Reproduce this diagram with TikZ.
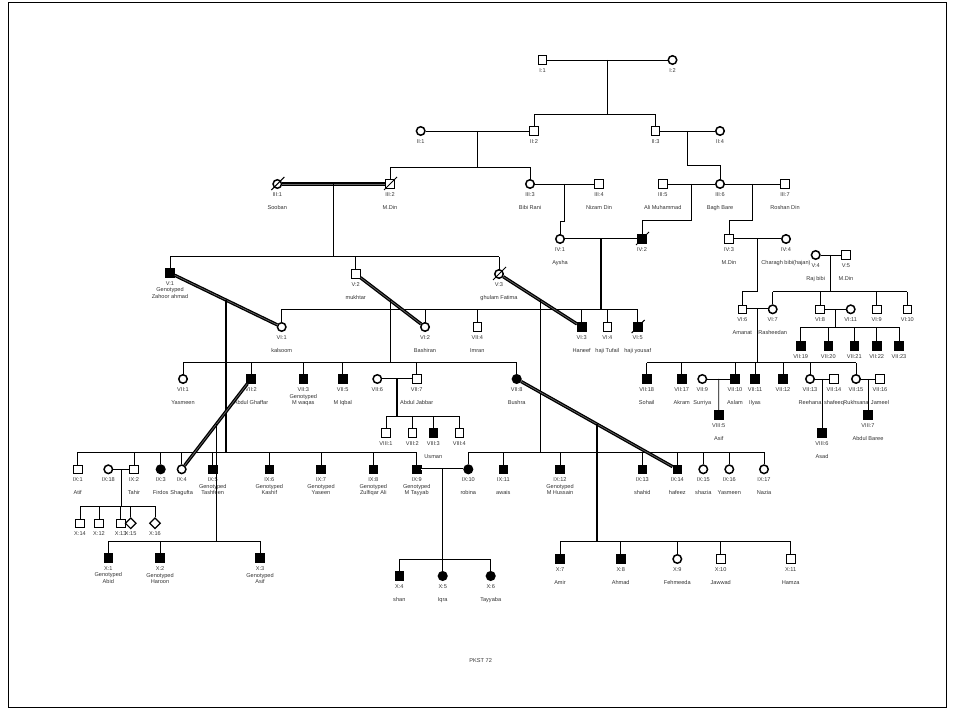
\documentclass[tikz,border=0pt]{standalone}
\usepackage{fontspec}
\setmainfont{Liberation Sans}
\usepackage{tikz}
\usetikzlibrary{calc, shapes.geometric}
\tikzstyle{male}    = [rectangle, draw=black, line width=0.9pt, fill=white, minimum size=8.5pt, inner sep=0pt]
\tikzstyle{female}  = [circle, draw=black, line width=1.5pt, fill=white, minimum size=8.5pt, inner sep=0pt]
\tikzstyle{unknown} = [diamond, draw=black, line width=1.2pt, fill=white, minimum size=11pt, inner sep=0pt]
\tikzstyle{aff}     = [fill=black]
\tikzstyle{lbl}     = [anchor=north, align=center, inner sep=0pt, text=black!80,
    font=\fontsize{5.6}{6.4}\selectfont]
\tikzstyle{mate}    = [line width=0.9pt]
\tikzstyle{consang} = [double, double distance=0.8pt, line width=0.8pt]
\tikzstyle{heavy}   = [double=black!60, double distance=0.7pt, line width=1.3pt]
\tikzstyle{desc}    = [line width=1.3pt]
\tikzstyle{sib}     = [line width=0.8pt]
\tikzstyle{dead}    = [line width=1pt]
\newcommand{\member}[6]{\node[#2] (#1) at (#3,#4) {};
    \node[lbl] (#1t) at (#3,#4+8.5) {#5\\#6};}
\newcommand{\deceased}[1]{\draw[dead] ([shift={(-6,6)}]#1.center) -- ([shift={(7,-7)}]#1.center);}

\begin{document}
\begin{tikzpicture}[x=1pt,y=-1pt]
    \useasboundingbox (0,0) rectangle (954,719);
    \draw[line width=0.8pt] (8,2) rectangle (946,707);

    \member{I1}{male}{542.5}{60}{I:1}{\mbox{}}
    \member{I2}{female}{672.5}{60}{I:2}{\mbox{}}
    \member{II1}{female}{420.7}{131}{II:1}{\mbox{}}
    \member{II2}{male}{534}{131}{II:2}{\mbox{}}
    \member{II3}{male}{655.5}{131}{II:3}{\mbox{}}
    \member{II4}{female}{720}{131}{II:4}{\mbox{}}
    \member{III1}{female}{277.3}{184}{III:1}{\mbox{}\\Sooban}
    \member{III2}{male}{390}{184}{III:2}{\mbox{}\\M.Din}
    \member{III3}{female}{530}{184}{III:3}{\mbox{}\\Bibi Rani}
    \member{III4}{male}{599}{184}{III:4}{\mbox{}\\Nizam Din}
    \member{III5}{male}{662.7}{184}{III:5}{\mbox{}\\Ali Muhammad}
    \member{III6}{female}{720}{184}{III:6}{\mbox{}\\Bagh Bare}
    \member{III7}{male}{785}{184}{III:7}{\mbox{}\\Roshan Din}
    \member{IV1}{female}{560}{239}{IV:1}{\mbox{}\\Aysha}
    \member{IV2}{male,aff}{642}{239}{IV:2}{\mbox{}}
    \member{IV3}{male}{729}{239}{IV:3}{\mbox{}\\M.Din}
    \member{IV4}{female}{786}{239}{IV:4}{\mbox{}\\Charagh bibi(hajan)}
    \member{V1}{male,aff}{170}{273}{V:1}{Genotyped\\Zahoor ahmad}
    \member{V2}{male}{355.7}{274}{V:2}{\mbox{}\\mukhtar}
    \member{V3}{female}{499}{274}{V:3}{\mbox{}\\ghulam Fatima}
    \member{V4}{female}{815.7}{255}{V:4}{\mbox{}\\Raj bibi}
    \member{V5}{male}{846}{255}{V:5}{\mbox{}\\M.Din}
    \member{VI1}{female}{281.7}{327}{VI:1}{\mbox{}\\kalsoom}
    \member{VI2}{female}{425}{327}{VI:2}{\mbox{}\\Bashiran}
    \member{VII4}{male}{477.3}{327}{VII:4}{\mbox{}\\Imran}
    \member{VI3}{male,aff}{581.7}{327}{VI:3}{\mbox{}\\Haneef}
    \member{VI4}{male}{607.3}{327}{VI:4}{\mbox{}\\haji Tufail}
    \member{VI5}{male,aff}{637.7}{327}{VI:5}{\mbox{}\\haji yousaf}
    \member{VI6}{male}{742.3}{309.3}{VI:6}{\mbox{}\\Amanat}
    \member{VI7}{female}{772.7}{309.3}{VI:7}{\mbox{}\\Rasheedan}
    \member{VI8}{male}{820}{309.3}{VI:8}{\mbox{}}
    \member{VI11}{female}{850.7}{309.3}{VI:11}{\mbox{}}
    \member{VI9}{male}{876.7}{309.3}{VI:9}{\mbox{}}
    \member{VI10}{male}{907.3}{309.3}{VI:10}{\mbox{}}
    \member{VII19}{male,aff}{800.7}{346}{VII:19}{\mbox{}}
    \member{VII20}{male,aff}{828.3}{346}{VII:20}{\mbox{}}
    \member{VII21}{male,aff}{854.3}{346}{VII:21}{\mbox{}}
    \member{VII22}{male,aff}{876.7}{346}{VII:22}{\mbox{}}
    \member{VII23}{male,aff}{899}{346}{VII:23}{\mbox{}}
    \member{VII1}{female}{183}{379}{VII:1}{\mbox{}\\Yasmeen}
    \member{VII2}{male,aff}{251}{379}{VII:2}{\mbox{}\\Abdul Ghaffar}
    \member{VII3}{male,aff}{303.3}{379}{VII:3}{Genotyped\\M waqas}
    \member{VII5}{male,aff}{342.7}{379}{VII:5}{\mbox{}\\M Iqbal}
    \member{VII6}{female}{377.3}{379}{VII:6}{\mbox{}}
    \member{VII7}{male}{416.7}{379}{VII:7}{\mbox{}\\Abdul Jabbar}
    \member{VII8}{female,aff}{516.7}{379}{VII:8}{\mbox{}\\Bushra}
    \member{VII18}{male,aff}{646.7}{379}{VII:18}{\mbox{}\\Sohail}
    \member{VII17}{male,aff}{681.7}{379}{VII:17}{\mbox{}\\Akram}
    \member{VII9}{female}{702.3}{379}{VII:9}{\mbox{}\\Surriya}
    \member{VII10}{male,aff}{735}{379}{VII:10}{\mbox{}\\Aslam}
    \member{VII11}{male,aff}{755}{379}{VII:11}{\mbox{}\\Ilyas}
    \member{VII12}{male,aff}{783}{379}{VII:12}{\mbox{}}
    \member{VII13}{female}{810}{379}{VII:13}{\mbox{}\\Reehana}
    \member{VII14}{male}{834}{379}{VII:14}{\mbox{}\\shafeeq}
    \member{VII15}{female}{856}{379}{VII:15}{\mbox{}\\Rukhsana}
    \member{VII16}{male}{880}{379}{VII:16}{\mbox{}\\Jameel}
    \member{VIII1}{male}{386}{433}{VIII:1}{\mbox{}}
    \member{VIII2}{male}{412.3}{433}{VIII:2}{\mbox{}}
    \member{VIII3}{male,aff}{433.3}{433}{VIII:3}{\mbox{}\\Usman}
    \member{VIII4}{male}{459.3}{433}{VIII:4}{\mbox{}}
    \member{VIII5}{male,aff}{718.7}{415}{VIII:5}{\mbox{}\\Asif}
    \member{VIII6}{male,aff}{822}{433}{VIII:6}{\mbox{}\\Asad}
    \member{VIII7}{male,aff}{868}{415}{VIII:7}{\mbox{}\\Abdul Baree}
    \member{IX1}{male}{77.7}{469.3}{IX:1}{\mbox{}\\Atif}
    \member{IX18}{female}{108.3}{469.3}{IX:18}{\mbox{}}
    \member{IX2}{male}{134}{469.3}{IX:2}{\mbox{}\\Tahir}
    \member{IX3}{female,aff}{160.7}{469.3}{IX:3}{\mbox{}\\Firdos}
    \member{IX4}{female}{181.7}{469.3}{IX:4}{\mbox{}\\Shagufta}
    \member{IX5}{male,aff}{212.7}{469.3}{IX:5}{Genotyped\\Tashfeen}
    \member{IX6}{male,aff}{269.3}{469.3}{IX:6}{Genotyped\\Kashif}
    \member{IX7}{male,aff}{321}{469.3}{IX:7}{Genotyped\\Yaseen}
    \member{IX8}{male,aff}{373.3}{469.3}{IX:8}{Genotyped\\Zulfiqar Ali}
    \member{IX9}{male,aff}{416.7}{469.3}{IX:9}{Genotyped\\M Tayyab}
    \member{IX10}{female,aff}{468.3}{469.3}{IX:10}{\mbox{}\\robina}
    \member{IX11}{male,aff}{503.3}{469.3}{IX:11}{\mbox{}\\awais}
    \member{IX12}{male,aff}{560}{469.3}{IX:12}{Genotyped\\M Hussain}
    \member{IX13}{male,aff}{642.3}{469.3}{IX:13}{\mbox{}\\shahid}
    \member{IX14}{male,aff}{677.3}{469.3}{IX:14}{\mbox{}\\hafeez}
    \member{IX15}{female}{703.3}{469.3}{IX:15}{\mbox{}\\shazia}
    \member{IX16}{female}{729.3}{469.3}{IX:16}{\mbox{}\\Yasmeen}
    \member{IX17}{female}{764}{469.3}{IX:17}{\mbox{}\\Nazia}
    \member{X14}{male}{80}{523.3}{X:14}{\mbox{}}
    \member{X12}{male}{99}{523.3}{X:12}{\mbox{}}
    \member{X13}{male}{120.7}{523.3}{X:13}{\mbox{}}
    \member{X15}{unknown}{130.7}{523.3}{X:15}{\mbox{}}
    \member{X16}{unknown}{155}{523.3}{X:16}{\mbox{}}
    \member{X1}{male,aff}{108.3}{558}{X:1}{Genotyped\\Abid}
    \member{X2}{male,aff}{160}{558}{X:2}{Genotyped\\Haroon}
    \member{X3}{male,aff}{260}{558}{X:3}{Genotyped\\Asif}
    \member{X4}{male,aff}{399.3}{576}{X:4}{\mbox{}\\shan}
    \member{X5}{female,aff}{442.7}{576}{X:5}{\mbox{}\\Iqra}
    \member{X6}{female,aff}{490.7}{576}{X:6}{\mbox{}\\Tayyaba}
    \member{X7}{male,aff}{560}{559}{X:7}{\mbox{}\\Amir}
    \member{X8}{male,aff}{620.7}{559}{X:8}{\mbox{}\\Ahmad}
    \member{X9}{female}{677.3}{559}{X:9}{\mbox{}\\Fehmeeda}
    \member{X10}{male}{720.7}{559}{X:10}{\mbox{}\\Jawwad}
    \member{X11}{male}{790.7}{559}{X:11}{\mbox{}\\Hamza}
    \node[lbl] (title) at (480.7,658) {PKST 72};

    \deceased{III1}
    \deceased{III2}
    \deceased{IV2}
    \deceased{V3}
    \deceased{VI5}

    \draw[mate] (I1) -- (I2);
    \coordinate (c1) at ($(I1)!.5!(I2)$);
    \coordinate (s1) at (0,114);
    \draw[sib] (c1) -- (c1 |- s1);
    \draw[sib] (II2 |- s1) -- (II3 |- s1);
    \foreach \k in {II2,II3} \draw[sib] (\k) -- (\k |- s1);

    \draw[mate] (II1) -- (II2);
    \coordinate (c2) at ($(II1)!.5!(II2)$);
    \coordinate (s2) at (0,167);
    \draw[sib] (c2) -- (c2 |- s2);
    \draw[sib] (III2 |- s2) -- (III3 |- s2);
    \foreach \k in {III2,III3} \draw[sib] (\k) -- (\k |- s2);

    \draw[mate] (II3) -- (II4);
    \coordinate (c3) at ($(II3)!.5!(II4)$);
    \coordinate (s3) at (0,165);
    \draw[sib] (c3) -- (c3 |- s3) -| (III6);

    \draw[heavy] (III1) -- (III2);
    \coordinate (c4) at ($(III1)!.5!(III2)$);
    \coordinate (s4) at (0,256.7);
    \draw[desc] (c4) -- (c4 |- s4);
    \draw[sib] (V1 |- s4) -- (V3 |- s4);
    \foreach \k in {V1,V2,V3} \draw[sib] (\k) -- (\k |- s4);

    \draw[mate] (III3) -- (III4);
    \coordinate (c5) at ($(III3)!.5!(III4)$);
    \coordinate (s5) at (0,221);
    \draw[sib] (c5) -- (c5 |- s5) -| (IV1);

    \draw[mate] (III5) -- (III6);
    \coordinate (c6) at ($(III5)!.5!(III6)$);
    \coordinate (s6) at (0,220.3);
    \draw[sib] (c6) -- (c6 |- s6) -| (IV2);

    \draw[mate] (III6) -- (III7);
    \coordinate (c7) at ($(III6)!.5!(III7)$);
    \draw[sib] (c7) -- (c7 |- s6) -| (IV3);

    \draw[consang] (IV1) -- (IV2);
    \coordinate (c8) at ($(IV1)!.5!(IV2)$);
    \coordinate (s8) at (0,309.3);
    \draw[desc] (c8) -- (c8 |- s8);
    \draw[sib] (VI1 |- s8) -- (VI5 |- s8);
    \foreach \k in {VI1,VI2,VII4,VI3,VI4,VI5} \draw[sib] (\k) -- (\k |- s8);

    \draw[consang] (IV3) -- (IV4);
    \coordinate (c9) at ($(IV3)!.5!(IV4)$);
    \coordinate (s9) at (0,291.7);
    \draw[desc] (c9) -- (c9 |- s9) -| (VI6);

    \draw[mate] (V4) -- (V5);
    \coordinate (c10) at ($(V4)!.5!(V5)$);
    \draw[sib] (c10) -- (c10 |- s9);
    \draw[sib] (VI7 |- s9) -- (VI10 |- s9);
    \foreach \k in {VI7,VI8,VI9,VI10} \draw[sib] (\k) -- (\k |- s9);

    \draw[heavy] (V1) -- (VI1);
    \coordinate (c11) at ($(V1)!.5!(VI1)$);
    \coordinate (s11) at (0,452);
    \draw[desc] (c11) -- (c11 |- s11);
    \draw[sib] (IX1 |- s11) -- (IX9 |- s11);
    \foreach \k in {IX1,IX2,IX3,IX4,IX5,IX6,IX7,IX8,IX9} \draw[sib] (\k) -- (\k |- s11);

    \draw[heavy] (V2) -- (VI2);
    \coordinate (c12) at ($(V2)!.5!(VI2)$);
    \coordinate (s12) at (0,362.7);
    \draw[desc] (c12) -- (c12 |- s12);
    \draw[sib] (VII1 |- s12) -- (VII8 |- s12);
    \foreach \k in {VII1,VII2,VII3,VII5,VII7,VII8} \draw[sib] (\k) -- (\k |- s12);

    \draw[heavy] (V3) -- (VI3);
    \coordinate (c13) at ($(V3)!.5!(VI3)$);
    \draw[desc] (c13) -- (c13 |- s11);
    \draw[sib] (IX10 |- s11) -- (IX17 |- s11);
    \foreach \k in {IX10,IX11,IX12,IX13,IX14,IX15,IX16,IX17} \draw[sib] (\k) -- (\k |- s11);

    \draw[consang] (VI6) -- (VI7);
    \coordinate (c14) at ($(VI6)!.5!(VI7)$);
    \draw[desc] (c14) -- (c14 |- s12);
    \draw[sib] (VII18 |- s12) -- (VII15 |- s12);
    \foreach \k in {VII18,VII17,VII10,VII11,VII12,VII13,VII15} \draw[sib] (\k) -- (\k |- s12);

    \draw[mate] (VI8) -- (VI11);
    \coordinate (c15) at ($(VI8)!.5!(VI11)$);
    \coordinate (s15) at (0,327.3);
    \draw[sib] (c15) -- (c15 |- s15);
    \draw[sib] (VII19 |- s15) -- (VII23 |- s15);
    \foreach \k in {VII19,VII20,VII21,VII22,VII23} \draw[sib] (\k) -- (\k |- s15);

    \draw[consang] (VII6) -- (VII7);
    \coordinate (c16) at ($(VII6)!.5!(VII7)$);
    \coordinate (s16) at (0,416);
    \draw[desc] (c16) -- (c16 |- s16);
    \draw[sib] (VIII1 |- s16) -- (VIII4 |- s16);
    \foreach \k in {VIII1,VIII2,VIII3,VIII4} \draw[sib] (\k) -- (\k |- s16);

    \draw[mate] (VII9) -- (VII10);
    \coordinate (c17) at ($(VII9)!.5!(VII10)$);
    \draw[sib] (c17) -- (VIII5);

    \draw[mate] (VII13) -- (VII14);
    \coordinate (c18) at ($(VII13)!.5!(VII14)$);
    \draw[sib] (c18) -- (VIII6);

    \draw[mate] (VII15) -- (VII16);
    \coordinate (c19) at ($(VII15)!.5!(VII16)$);
    \draw[sib] (c19) -- (VIII7);

    \draw[heavy] (VII2) -- (IX4);
    \coordinate (c20) at ($(VII2)!.5!(IX4)$);
    \coordinate (s20) at (0,541);
    \draw[desc] (c20) -- (c20 |- s20);
    \draw[sib] (X1 |- s20) -- (X3 |- s20);
    \foreach \k in {X1,X2,X3} \draw[sib] (\k) -- (\k |- s20);

    \draw[heavy] (VII8) -- (IX14);
    \coordinate (c21) at ($(VII8)!.5!(IX14)$);
    \draw[desc] (c21) -- (c21 |- s20);
    \draw[sib] (X7 |- s20) -- (X11 |- s20);
    \foreach \k in {X7,X8,X9,X10,X11} \draw[sib] (\k) -- (\k |- s20);

    \draw[mate] (IX18) -- (IX2);
    \coordinate (c22) at ($(IX18)!.5!(IX2)$);
    \coordinate (s22) at (0,506);
    \draw[sib] (c22) -- (c22 |- s22);
    \draw[sib] (X14 |- s22) -- (X16 |- s22);
    \foreach \k in {X14,X12,X13,X15,X16} \draw[sib] (\k) -- (\k |- s22);

    \draw[consang] (IX9) -- (IX10);
    \coordinate (c23) at ($(IX9)!.5!(IX10)$);
    \coordinate (s23) at (0,559);
    \draw[desc] (c23) -- (c23 |- s23);
    \draw[sib] (X4 |- s23) -- (X6 |- s23);
    \foreach \k in {X4,X5,X6} \draw[sib] (\k) -- (\k |- s23);
\end{tikzpicture}
\end{document}
